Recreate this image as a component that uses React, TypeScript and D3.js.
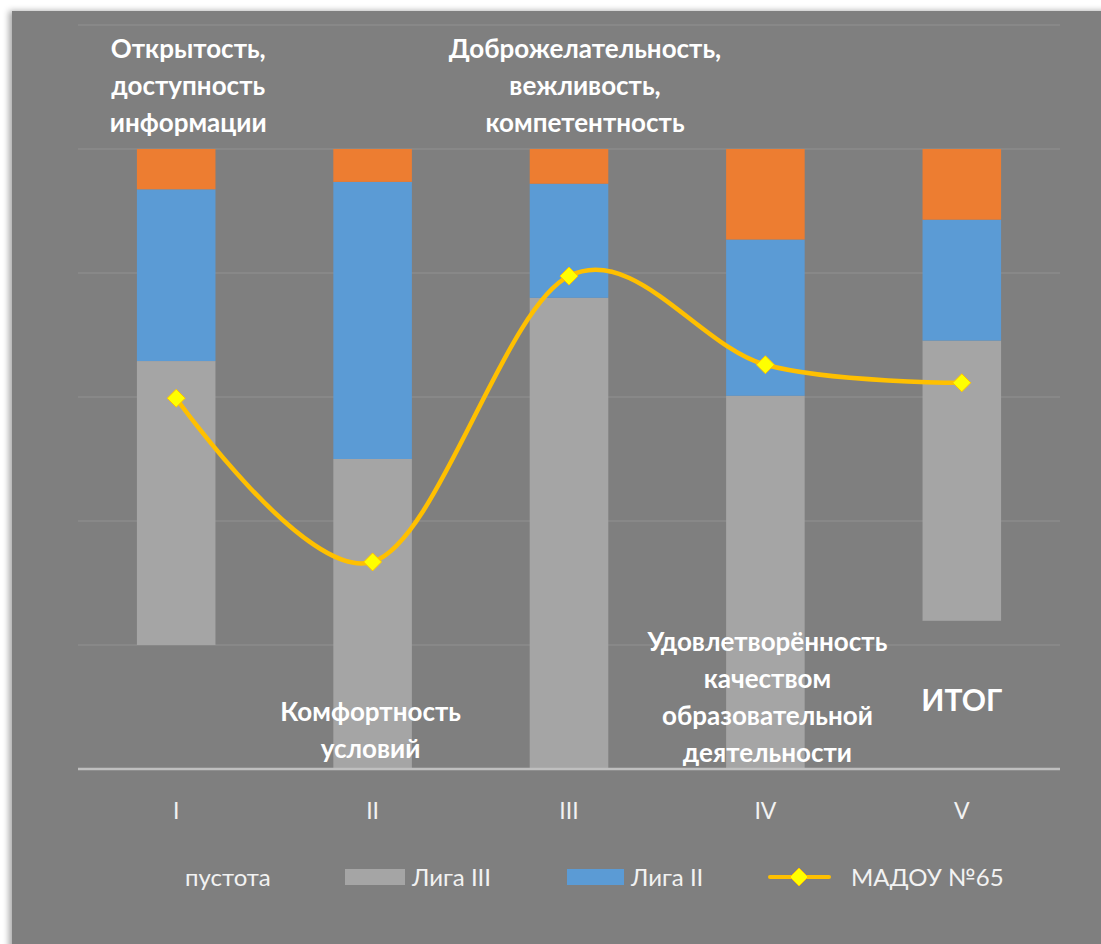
import React from "react";
import * as d3 from "d3";

const categories = ["I", "II", "III", "IV", "V"];
const labelLines = [
  ["Открытость,", "доступность", "информации"],
  ["Комфортность", "условий"],
  ["Доброжелательность,", "вежливость,", "компетентность"],
  ["Удовлетворённость", "качеством", "образовательной", "деятельности"],
  ["ИТОГ"],
];
const pustota = [20, 0, 0, 0, 23.9];
const liga3 = [45.8, 50, 76, 60.2, 45.2];
const liga2 = [27.7, 44.7, 18.4, 25.2, 19.5];
const liga1 = [6.5, 5.3, 5.6, 14.6, 11.4];
const madou = [59.8, 33.4, 79.5, 65.2, 62.3];
const yTicks = [0, 20, 40, 60, 80, 100, 120];

const W = 1101;
const H = 944;
const plotLeft = 78;
const plotRight = 1060;
const plotTop = 25;
const plotBottom = 769;

const COLORS = {
  bg: "#7f7f7f",
  grid: "#8b8b8b",
  axis: "#bfbfbf",
  liga3: "#a5a5a5",
  liga2: "#5b9bd5",
  liga1: "#ed7d31",
  line: "#ffc000",
  marker: "#ffff00",
  text: "#f2f2f2",
};

const labelFont = "Lato, 'Open Sans', sans-serif";

export default function App() {
  const x = d3.scaleBand<string>().domain(categories).range([plotLeft, plotRight]).paddingInner(0.6).paddingOuter(0.3);
  const y = d3.scaleLinear().domain([0, 120]).range([plotBottom, plotTop]);
  const bw = x.bandwidth();
  const cx = (c: string) => (x(c) as number) + bw / 2;

  const rows = categories.map((c, i) => ({ c, pustota: pustota[i], liga3: liga3[i], liga2: liga2[i], liga1: liga1[i] }));
  const stack = d3.stack<any>().keys(["pustota", "liga3", "liga2", "liga1"])(rows);
  const fills: Record<string, string> = { pustota: "none", liga3: COLORS.liga3, liga2: COLORS.liga2, liga1: COLORS.liga1 };

  const linePts: [number, number][] = categories.map((c, i) => [cx(c), y(madou[i])]);
  const lineGen = d3.line().curve(d3.curveCardinal.tension(0));

  const diamond = (px: number, py: number, r: number) =>
    `M${px},${py - r}L${px + r},${py}L${px},${py + r}L${px - r},${py}Z`;

  const labelPlacement = ["top", "bottom", "top", "bottom", "bottom"];
  const labelDx = [12, -2, 16, 2, 0];
  const bottomLastLineY = [748, 748, 748, 752, 699];
  const lh = 37;

  return (
    <svg width={W} height={H} style={{ position: "absolute", left: 0, top: 0 }}>
      <defs>
        <filter id="sh" x="-5%" y="-5%" width="110%" height="110%">
          <feDropShadow dx="-3" dy="0" stdDeviation="3" floodColor="#000" floodOpacity="0.35" />
        </filter>
      </defs>
      <rect x={0} y={0} width={W} height={H} fill="#fff" />
      <rect x={12} y={11} width={W} height={H} fill={COLORS.bg} filter="url(#sh)" />
      {yTicks.slice(1).map((t) => (
        <line key={t} x1={plotLeft} x2={plotRight} y1={y(t)} y2={y(t)} stroke={COLORS.grid} strokeWidth={1.5} />
      ))}
      {stack.map((s) =>
        s.map((d, i) =>
          fills[s.key] === "none" ? null : (
            <rect
              key={s.key + i}
              x={x(categories[i]) as number}
              y={y(d[1])}
              width={bw}
              height={y(d[0]) - y(d[1])}
              fill={fills[s.key]}
            />
          )
        )
      )}
      <line x1={plotLeft} x2={plotRight} y1={plotBottom} y2={plotBottom} stroke={COLORS.axis} strokeWidth={2.5} />
      {categories.map((c) => (
        <text key={c} x={cx(c)} y={819} textAnchor="middle" fill={COLORS.text} fontFamily={labelFont} fontSize={23}>
          {c}
        </text>
      ))}
      <path d={lineGen(linePts) as string} fill="none" stroke={COLORS.line} strokeWidth={4.5} strokeLinecap="round" />
      {linePts.map(([px, py], i) => (
        <path key={i} d={diamond(px, py, 9)} fill={COLORS.marker} stroke={COLORS.line} strokeWidth={1} />
      ))}
      {categories.map((c, i) => {
        const lines = labelLines[i];
        const startY = labelPlacement[i] === "top" ? 48 : bottomLastLineY[i] - (lines.length - 1) * lh;
        return (
          <text
            key={"l" + c}
            textAnchor="middle"
            fill="#fff"
            fontFamily={labelFont}
            fontWeight="bold"
            fontSize={i === 4 ? 30 : 26}
            dominantBaseline="central"
          >
            {lines.map((ln, k) => (
              <tspan key={k} x={cx(c) + labelDx[i]} y={startY + k * lh}>
                {ln}
              </tspan>
            ))}
          </text>
        );
      })}
      <g fontFamily={labelFont} fontSize={24} fill={COLORS.text}>
        <text x={185} y={886}>пустота</text>
        <rect x={345} y={869} width={60} height={16} fill={COLORS.liga3} />
        <text x={412} y={886}>Лига III</text>
        <rect x={567} y={869} width={57} height={16} fill={COLORS.liga2} />
        <text x={631} y={886}>Лига II</text>
        <line x1={770} x2={829} y1={877} y2={877} stroke={COLORS.line} strokeWidth={4} strokeLinecap="round" />
        <path d={diamond(799, 877, 9)} fill={COLORS.marker} stroke={COLORS.line} strokeWidth={1} />
        <text x={851} y={886}>МАДОУ №65</text>
      </g>
    </svg>
  );
}
